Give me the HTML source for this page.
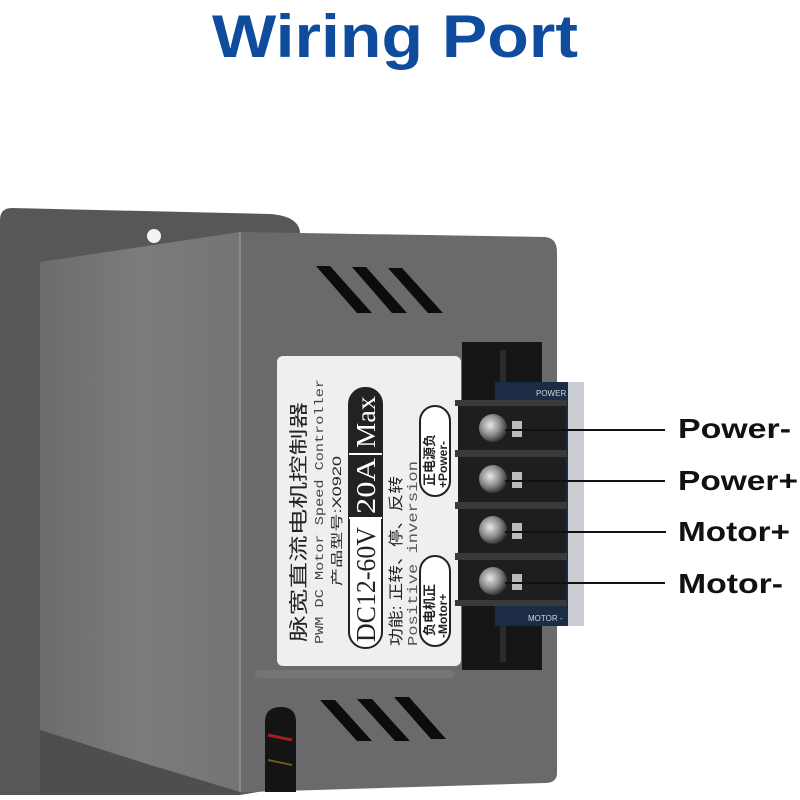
<!DOCTYPE html>
<html><head><meta charset="utf-8"><style>
html,body{margin:0;padding:0;background:#fff;}
svg{display:block}
</style></head><body>
<svg width="800" height="800" viewBox="0 0 800 800" xmlns="http://www.w3.org/2000/svg">
<defs>
<linearGradient id="side" x1="0" x2="1" y1="0" y2="0">
<stop offset="0" stop-color="#6c6c6e"/><stop offset="0.5" stop-color="#7c7c7e"/><stop offset="1" stop-color="#747476"/>
</linearGradient>
<radialGradient id="scr" cx="0.4" cy="0.4" r="0.6">
<stop offset="0" stop-color="#e8e8e8"/><stop offset="0.6" stop-color="#8a8a8a"/><stop offset="1" stop-color="#3a3a3a"/>
</radialGradient>
</defs>
<text x="212" y="57" font-family="Liberation Sans, sans-serif" font-weight="bold" font-size="60" fill="#0f4c9e" textLength="366" lengthAdjust="spacingAndGlyphs">Wiring Port</text>

<!-- back plate -->
<path d="M12 208 L270 214 Q298 216 300 232 L300 785 L240 795 L0 795 L0 220 Q0 208 12 208Z" fill="#575759"/>
<circle cx="154" cy="236" r="7" fill="#f4f4f4"/>
<!-- side face -->
<path d="M40 262 L240 232 L240 792 L150 765 L40 730 Z" fill="url(#side)"/>
<path d="M40 730 L150 765 L240 792 L240 795 L40 795 Z" fill="#4e4e50"/>
<!-- front face -->
<path d="M240 232 L545 237 Q557 238 557 252 L557 773 Q557 783 545 783 L250 792 L240 792 Z" fill="#6a6a6c"/>
<line x1="240" y1="232" x2="240" y2="792" stroke="#8a8a8c" stroke-width="2"/>
<!-- top vents -->
<g fill="#0c0c0c">
<polygon points="316,266 330,266 372,313 357,313"/>
<polygon points="352,267 366,267 407,313 392,313"/>
<polygon points="388,268 402,268 443,313 428,313"/>
<polygon points="320,700 335,700 372,741 357,741"/>
<polygon points="357,699 372,699 410,741 395,741"/>
<polygon points="394,697 409,697 446,739 431,739"/>
</g>
<rect x="255" y="670" width="200" height="8" rx="4" fill="#757577"/>
<path d="M265 792 L265 722 Q265 707 281 707 Q296 707 296 722 L296 792 Z" fill="#141414"/>
<path d="M268 735 L292 740" stroke="#a02020" stroke-width="3"/>
<path d="M268 760 L292 765" stroke="#6a5a20" stroke-width="2"/>

<!-- label -->
<rect x="277" y="356" width="184" height="310" rx="6" fill="#efefef"/>
<g transform="translate(277,666) rotate(-90)" font-family="Liberation Serif, 'Noto Serif CJK SC', serif" fill="#222">
<text x="24" y="28" font-size="19" font-family="Liberation Sans,'Noto Sans CJK SC',sans-serif" textLength="240" lengthAdjust="spacingAndGlyphs">脉宽直流电机控制器</text>
<text x="22" y="46" font-size="12" font-family="Liberation Mono, monospace" fill="#444" textLength="265" lengthAdjust="spacingAndGlyphs">PWM DC Motor Speed Controller</text>
<text x="80" y="64" font-size="12" font-family="Liberation Sans,'Noto Sans CJK SC',sans-serif" textLength="130" lengthAdjust="spacingAndGlyphs">产品型号:X0920</text>
<rect x="18" y="72" width="260" height="33" rx="16" fill="#fff" stroke="#222" stroke-width="2"/>
<path d="M148 72 L262 72 Q278 72 278 88.5 Q278 105 262 105 L148 105 Z" fill="#222"/>
<line x1="148" y1="72" x2="148" y2="105" stroke="#fff" stroke-width="2"/>
<line x1="212" y1="72" x2="212" y2="105" stroke="#fff" stroke-width="2"/>
<text x="24" y="98" font-size="27" textLength="115" lengthAdjust="spacingAndGlyphs">DC12-60V</text>
<text x="152" y="98" font-size="27" fill="#fff" textLength="56" lengthAdjust="spacingAndGlyphs">20A</text>
<text x="218" y="98" font-size="27" fill="#fff" textLength="52" lengthAdjust="spacingAndGlyphs">Max</text>
<text x="20" y="124" font-size="15" font-family="Liberation Sans,'Noto Sans CJK SC',sans-serif" textLength="170" lengthAdjust="spacingAndGlyphs">功能: 正转、停、反转</text>
<text x="20" y="140" font-size="14" font-family="Liberation Mono, monospace" fill="#555" textLength="185" lengthAdjust="spacingAndGlyphs">Positive inversion</text>
<rect x="20" y="143" width="90" height="30" rx="15" fill="#fff" stroke="#222" stroke-width="2"/>
<text x="30" y="157" font-size="13" font-family="Liberation Sans,'Noto Sans CJK SC',sans-serif" font-weight="bold">负电机正</text>
<text x="28" y="170" font-size="12" font-family="Liberation Sans,sans-serif" font-weight="bold">-Motor+</text>
<rect x="170" y="143" width="90" height="30" rx="15" fill="#fff" stroke="#222" stroke-width="2"/>
<text x="180" y="157" font-size="13" font-family="Liberation Sans,'Noto Sans CJK SC',sans-serif" font-weight="bold">正电源负</text>
<text x="178" y="170" font-size="12" font-family="Liberation Sans,sans-serif" font-weight="bold">+Power-</text>
</g>

<!-- recess -->
<rect x="462" y="342" width="80" height="328" fill="#161616"/>
<rect x="500" y="350" width="6" height="312" fill="#2a2a2a"/>
<!-- pcb -->
<rect x="495" y="382" width="78" height="244" fill="#1c2c44"/>
<rect x="568" y="382" width="16" height="244" fill="#c9ccd0"/>
<text x="536" y="396" font-size="8" fill="#cfd6e0" font-family="Liberation Sans,sans-serif">POWER -</text>
<text x="528" y="621" font-size="8" fill="#cfd6e0" font-family="Liberation Sans,sans-serif">MOTOR -</text>
<!-- terminal block -->
<rect x="458" y="400" width="108" height="206" fill="#1e1e1e"/>
<g fill="#3a3a3a">
<rect x="455" y="400" width="112" height="6"/>
<rect x="455" y="450" width="112" height="7"/>
<rect x="455" y="502" width="112" height="7"/>
<rect x="455" y="553" width="112" height="7"/>
<rect x="455" y="600" width="112" height="6"/>
</g>
<g>
<circle cx="493" cy="428" r="14" fill="url(#scr)"/>
<circle cx="493" cy="479" r="14" fill="url(#scr)"/>
<circle cx="493" cy="530" r="14" fill="url(#scr)"/>
<circle cx="493" cy="581" r="14" fill="url(#scr)"/>
<rect x="512" y="421" width="10" height="16" fill="#bbb"/>
<rect x="512" y="472" width="10" height="16" fill="#bbb"/>
<rect x="512" y="523" width="10" height="16" fill="#bbb"/>
<rect x="512" y="574" width="10" height="16" fill="#bbb"/>
</g>
<g stroke="#111" stroke-width="2">
<line x1="505" y1="430" x2="665" y2="430"/>
<line x1="505" y1="481" x2="665" y2="481"/>
<line x1="505" y1="532" x2="666" y2="532"/>
<line x1="505" y1="583" x2="665" y2="583"/>
</g>
<g font-family="Liberation Sans, sans-serif" font-weight="bold" font-size="28" fill="#111">
<text x="678" y="438" textLength="113" lengthAdjust="spacingAndGlyphs">Power-</text>
<text x="678" y="490" textLength="120" lengthAdjust="spacingAndGlyphs">Power+</text>
<text x="678" y="541" textLength="112" lengthAdjust="spacingAndGlyphs">Motor+</text>
<text x="678" y="593" textLength="105" lengthAdjust="spacingAndGlyphs">Motor-</text>
</g>
</svg>
</body></html>
